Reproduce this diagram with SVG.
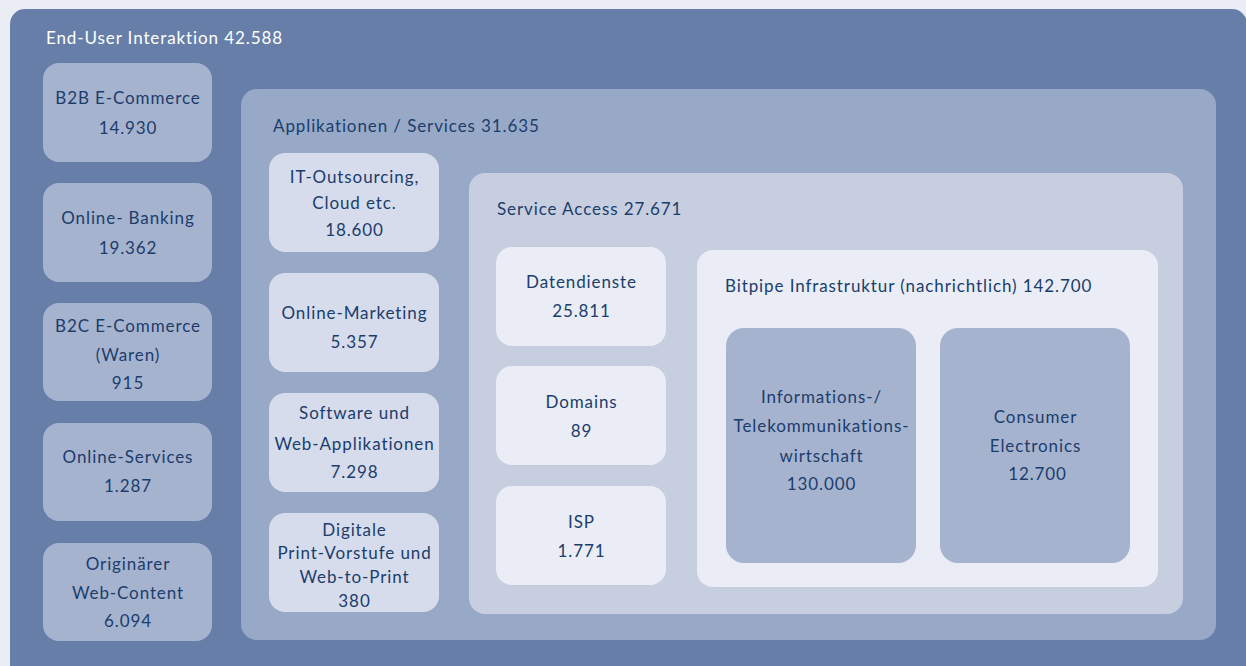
<svg xmlns="http://www.w3.org/2000/svg" width="1246" height="666" viewBox="0 0 1246 666">
<style>
text{font-family:Lato,"Open Sans","Liberation Sans",sans-serif;font-size:17px;letter-spacing:0.9px;fill:#1b3d6c;}
.c{text-anchor:middle;}
.w{fill:#ffffff;}
.l1{fill:#677fa8;}
.l2{fill:#a6b3cf;}
.l3{fill:#97a9c7;}
.l4{fill:#d6dceb;}
.l5{fill:#c7cee0;}
.l6{fill:#eaedf5;}
</style>
<rect x="0" y="0" width="1246" height="666" fill="#eaedf4"/>
<g id="end-user">
<rect class="l1" x="10" y="9" width="1237" height="680" rx="15"/>
<text class="w" x="46" y="44">End-User Interaktion 42.588</text>
</g>
<g id="b2b"><rect class="l2" x="43" y="63" width="169" height="99" rx="16"/>
<text class="c" x="128" y="104">B2B E-Commerce</text><text class="c" x="128" y="134">14.930</text></g>
<g id="banking"><rect class="l2" x="43" y="183" width="169" height="99" rx="16"/>
<text class="c" x="128" y="224">Online- Banking</text><text class="c" x="128" y="254">19.362</text></g>
<g id="b2c"><rect class="l2" x="43" y="303" width="169" height="98" rx="16"/>
<text class="c" x="128" y="332">B2C E-Commerce</text><text class="c" x="128" y="361">(Waren)</text><text class="c" x="128" y="389">915</text></g>
<g id="online-services"><rect class="l2" x="43" y="423" width="169" height="98" rx="16"/>
<text class="c" x="128" y="463">Online-Services</text><text class="c" x="128" y="492">1.287</text></g>
<g id="content"><rect class="l2" x="43" y="543" width="169" height="98" rx="16"/>
<text class="c" x="128" y="570">Originärer</text><text class="c" x="128" y="599">Web-Content</text><text class="c" x="128" y="627">6.094</text></g>
<g id="applikationen">
<rect class="l3" x="241" y="89" width="975" height="551" rx="16"/>
<text x="273" y="132">Applikationen / Services 31.635</text>
</g>
<g id="it-outsourcing"><rect class="l4" x="269" y="153" width="170" height="99" rx="16"/>
<text class="c" x="354.5" y="183">IT-Outsourcing,</text><text class="c" x="354.5" y="209">Cloud etc.</text><text class="c" x="354.5" y="236">18.600</text></g>
<g id="marketing"><rect class="l4" x="269" y="273" width="170" height="99" rx="16"/>
<text class="c" x="354.5" y="319">Online-Marketing</text><text class="c" x="354.5" y="348">5.357</text></g>
<g id="software"><rect class="l4" x="269" y="393" width="170" height="99" rx="16"/>
<text class="c" x="354.5" y="419">Software und</text><text class="c" x="354.5" y="450">Web-Applikationen</text><text class="c" x="354.5" y="478">7.298</text></g>
<g id="print"><rect class="l4" x="269" y="513" width="170" height="99" rx="16"/>
<text class="c" x="354.5" y="536">Digitale</text><text class="c" x="354.5" y="559">Print-Vorstufe und</text><text class="c" x="354.5" y="583">Web-to-Print</text><text class="c" x="354.5" y="607">380</text></g>
<g id="service-access">
<rect class="l5" x="469" y="173" width="714" height="441" rx="16"/>
<text x="497" y="215">Service Access 27.671</text>
</g>
<g id="datendienste"><rect class="l6" x="496" y="247" width="170" height="99" rx="16"/>
<text class="c" x="581.5" y="288">Datendienste</text><text class="c" x="581.5" y="317">25.811</text></g>
<g id="domains"><rect class="l6" x="496" y="366" width="170" height="99" rx="16"/>
<text class="c" x="581.5" y="408">Domains</text><text class="c" x="581.5" y="437">89</text></g>
<g id="isp"><rect class="l6" x="496" y="486" width="170" height="99" rx="16"/>
<text class="c" x="581.5" y="528">ISP</text><text class="c" x="581.5" y="557">1.771</text></g>
<g id="bitpipe">
<rect class="l6" x="697" y="250" width="461" height="337" rx="16"/>
<text x="725" y="292">Bitpipe Infrastruktur (nachrichtlich) 142.700</text>
</g>
<g id="itk"><rect class="l2" x="726" y="328" width="190" height="235" rx="18"/>
<text class="c" x="821.5" y="403">Informations-/</text><text class="c" x="821.5" y="432">Telekommunikations-</text><text class="c" x="821.5" y="462">wirtschaft</text><text class="c" x="821.5" y="490">130.000</text></g>
<g id="consumer"><rect class="l2" x="940" y="328" width="190" height="235" rx="18"/>
<text class="c" x="1035.5" y="423">Consumer</text><text class="c" x="1035.5" y="452">Electronics</text><text class="c" x="1037.5" y="480">12.700</text></g>
<g id="connectors"/>
</svg>
